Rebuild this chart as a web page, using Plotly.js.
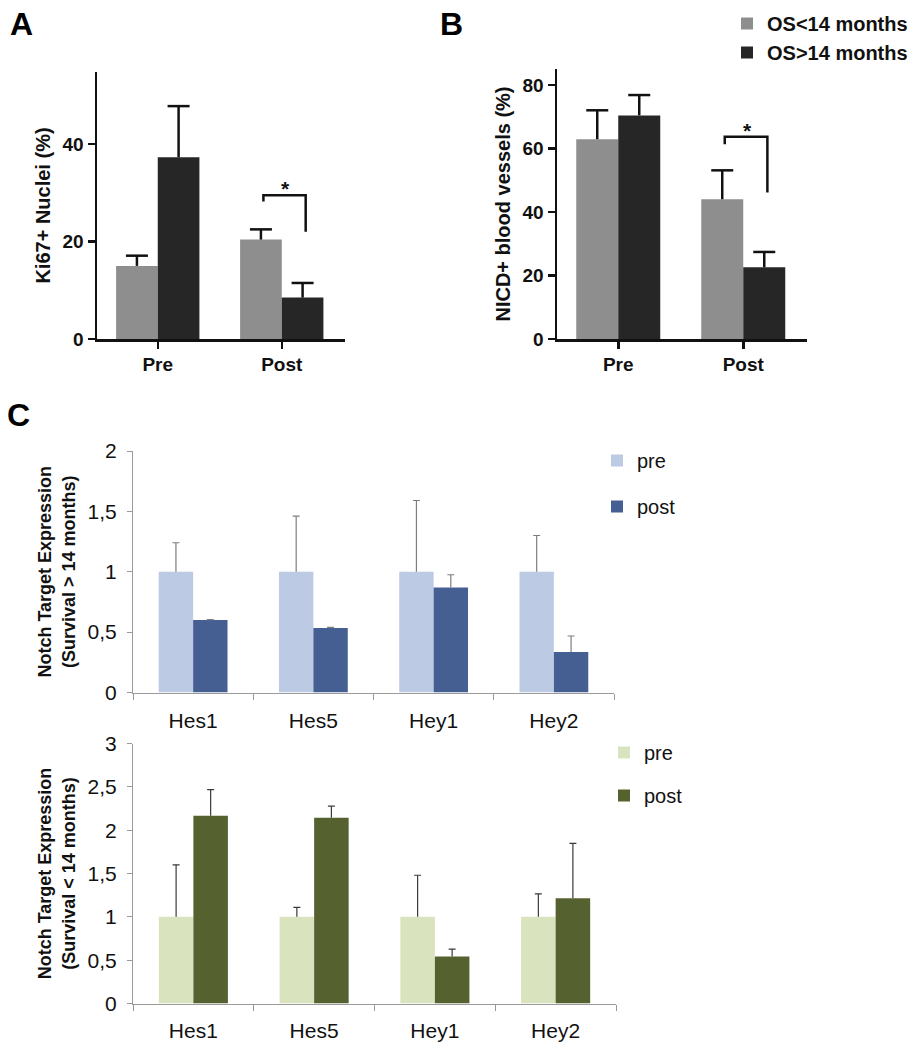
<!DOCTYPE html>
<html>
<head>
<meta charset="utf-8">
<script src="https://cdn.plot.ly/plotly-3.0.1.min.js"></script>
<style>
  body { margin: 0; background: #fff; }
  #fig { width: 916px; height: 1050px; }
</style>
</head>
<body>
<div id="fig"></div>
<script>
// A / B : overall survival groups, pre vs post treatment
var phases = ['Pre', 'Post'];
var osShortName = 'OS&lt;14 months';
var osLongName = 'OS&gt;14 months';
var ki67Short = [15.0, 20.4];
var ki67ShortErr = [2.1, 2.1];
var ki67Long = [37.3, 8.5];
var ki67LongErr = [10.5, 3.0];
var nicdShort = [62.9, 44.0];
var nicdShortErr = [9.1, 9.1];
var nicdLong = [70.4, 22.6];
var nicdLongErr = [6.4, 4.8];

// significance brackets on "Post": [left leg end, bracket level, right leg end]
var sigKi67 = [28.2, 29.5, 22.0];
var sigNicd = [61.3, 63.7, 46.1];

// C : notch targets
var genes = ['Hes1', 'Hes5', 'Hey1', 'Hey2'];
var longPre = [1, 1, 1, 1];
var longPreErr = [0.24, 0.46, 0.59, 0.30];
var longPost = [0.60, 0.535, 0.87, 0.335];
var longPostErr = [0.004, 0.004, 0.105, 0.133];
var shortPre = [1, 1, 1, 1];
var shortPreErr = [0.60, 0.11, 0.48, 0.265];
var shortPost = [2.165, 2.142, 0.543, 1.215];
var shortPostErr = [0.303, 0.135, 0.085, 0.633];

var W = 916, H = 1050;
var FONT = 'Liberation Sans, Arial, Helvetica, sans-serif';
var GRAY = '#8e8e8e', BLACK = '#262626';
var INK = '#111111';

function px(a, b) { return [a / W, b / W]; }
function py(bottom, top) { return [1 - bottom / H, 1 - top / H]; }
function idx(a) { return a.map(function (_, i) { return i; }); }
function add(a, b) { return a.map(function (v, i) { return v + b[i]; }); }

var abBar = 0.336;   // bar width in A/B (category units)
var cBar = 0.286;    // bar width in C

function bar(cats, y, name, color, xa, ya, off, w, leg, group) {
  return {
    type: 'bar', x: cats, y: y, name: name,
    xaxis: xa, yaxis: ya, offset: off, width: w,
    marker: { color: color, line: { width: 0 } },
    showlegend: !!leg, legend: leg || 'legend', legendgroup: group,
    hoverinfo: 'skip'
  };
}

// one-sided error bar: stem down to the bar top, cap only on the upper end
function whisker(cats, y, err, xa, ya, shift, capLen, thick, color) {
  return {
    type: 'scatter', mode: 'markers',
    x: idx(cats).map(function (i) { return i + shift; }),
    y: add(y, err),
    xaxis: xa, yaxis: ya,
    marker: { symbol: 'line-ew', size: capLen / 1.4, line: { width: thick, color: color } },
    error_y: { type: 'data', symmetric: false, array: y.map(function () { return 0; }),
               arrayminus: err, width: 0, thickness: thick, color: color },
    showlegend: false, hoverinfo: 'skip'
  };
}

var data = [
  bar(phases, ki67Short, osShortName, GRAY, 'x', 'y', -abBar, abBar),
  bar(phases, ki67Long, osLongName, BLACK, 'x', 'y', 0, abBar),
  bar(phases, nicdShort, osShortName, GRAY, 'x2', 'y2', -abBar, abBar, 'legend'),
  bar(phases, nicdLong, osLongName, BLACK, 'x2', 'y2', 0, abBar, 'legend'),
  bar(genes, longPre, 'pre', '#bccbe3', 'x3', 'y3', -cBar, cBar, 'legend2', 'a'),
  bar(genes, longPost, 'post', '#465f93', 'x3', 'y3', 0, cBar, 'legend2', 'b'),
  bar(genes, shortPre, 'pre', '#d9e4bf', 'x4', 'y4', -cBar, cBar, 'legend3', 'a'),
  bar(genes, shortPost, 'post', '#556230', 'x4', 'y4', 0, cBar, 'legend3', 'b'),

  whisker(phases, ki67Short, ki67ShortErr, 'x5', 'y', -abBar / 2, 22, 2.5, INK),
  whisker(phases, ki67Long, ki67LongErr, 'x5', 'y', abBar / 2, 22, 2.5, INK),
  whisker(phases, nicdShort, nicdShortErr, 'x6', 'y2', -abBar / 2, 22, 2.5, INK),
  whisker(phases, nicdLong, nicdLongErr, 'x6', 'y2', abBar / 2, 22, 2.5, INK),
  whisker(genes, longPre, longPreErr, 'x7', 'y3', -cBar / 2, 7, 1.2, '#7d7d7d'),
  whisker(genes, longPost, longPostErr, 'x7', 'y3', cBar / 2, 7, 1.2, '#7d7d7d'),
  whisker(genes, shortPre, shortPreErr, 'x8', 'y4', -cBar / 2, 7, 1.2, '#3a3a3a'),
  whisker(genes, shortPost, shortPostErr, 'x8', 'y4', cBar / 2, 7, 1.2, '#3a3a3a')
];

function boldAxisX(dom, anchor) {
  return {
    domain: dom, anchor: anchor, type: 'category', range: [-0.49, 1.51],
    showline: true, linewidth: 2.5, linecolor: INK,
    ticks: 'outside', ticklen: 7, tickwidth: 2.5, tickcolor: INK,
    tickfont: { family: FONT, size: 19, weight: 700, color: INK },
    showgrid: false, zeroline: false, fixedrange: true
  };
}
function boldAxisY(dom, anchor, top, title) {
  return {
    domain: dom, anchor: anchor, range: [0, top], tick0: 0, dtick: 20,
    showline: true, linewidth: 2.5, linecolor: INK,
    ticks: 'outside', ticklen: 7, tickwidth: 2.5, tickcolor: INK,
    tickfont: { family: FONT, size: 19, weight: 700, color: INK },
    title: { text: title, font: { family: FONT, size: 20, weight: 700, color: INK }, standoff: 7 },
    showgrid: false, zeroline: false, fixedrange: true
  };
}
function thinAxisX(dom, anchor, standoff) {
  return {
    domain: dom, anchor: anchor, type: 'category',
    showline: true, linewidth: 1, linecolor: '#9a9a9a',
    ticks: 'outside', tickson: 'boundaries', ticklen: 6, tickcolor: '#9a9a9a',
    tickfont: { family: FONT, size: 21, color: INK }, ticklabelstandoff: standoff,
    showgrid: false, zeroline: false, fixedrange: true
  };
}
function thinAxisY(dom, anchor, top, title) {
  return {
    domain: dom, anchor: anchor, range: [0, top], tick0: 0, dtick: 0.5,
    showline: true, linewidth: 1, linecolor: '#9a9a9a',
    ticks: 'outside', ticklen: 5, tickcolor: '#9a9a9a',
    tickfont: { family: FONT, size: 21, color: INK }, ticklabelstandoff: 6,
    title: { text: title, font: { family: FONT, size: 18, weight: 700, color: INK }, standoff: 7 },
    showgrid: false, zeroline: false, fixedrange: true
  };
}
// hidden numeric axis laid over a category axis, for the whiskers
function overlayX(over, anchor, range) {
  return { overlaying: over, anchor: anchor, range: range, visible: false, fixedrange: true };
}

// bracket between the two "Post" bars
function bracket(xa, ya, s) {
  var l = 1 - abBar / 2 + 0.02, r = 1 + abBar / 2 + 0.025;
  return {
    type: 'path', xref: xa, yref: ya,
    path: 'M' + l + ',' + s[0] + ' L' + l + ',' + s[1] + ' L' + r + ',' + s[1] + ' L' + r + ',' + s[2],
    line: { color: INK, width: 2.5 }
  };
}
function star(xa, ya, s) {
  return {
    xref: xa, yref: ya, x: 1.03, y: s[1], yanchor: 'bottom', yshift: -7,
    text: '*', showarrow: false, font: { family: FONT, size: 21, weight: 700, color: INK }
  };
}
function panelLabel(t, x, y) {
  return {
    xref: 'paper', yref: 'paper', x: x / W, y: 1 - y / H, xanchor: 'left', yanchor: 'top',
    text: t, showarrow: false, font: { family: FONT, size: 32, weight: 700, color: '#000' }
  };
}

var layout = {
  width: W, height: H,
  margin: { l: 0, r: 0, t: 0, b: 0 },
  paper_bgcolor: '#fff', plot_bgcolor: '#fff',
  font: { family: FONT, color: INK },
  separators: ', ',
  barmode: 'group',
  xaxis: boldAxisX(px(97, 345), 'y'),
  yaxis: boldAxisY(py(339, 72), 'x', 54.8, 'Ki67+ Nuclei (%)'),
  xaxis2: boldAxisX(px(557, 807), 'y2'),
  yaxis2: boldAxisY(py(339, 69), 'x2', 85, 'NICD+ blood vessels (%)'),
  xaxis3: thinAxisX(px(133, 614), 'y3', 9),
  yaxis3: thinAxisY(py(692.5, 451), 'x3', 2, 'Notch Target Expression<br>(Survival &gt; 14 months)'),
  xaxis4: thinAxisX(px(133, 616), 'y4', 8),
  yaxis4: thinAxisY(py(1003.5, 743.5), 'x4', 3, 'Notch Target Expression<br>(Survival &lt; 14 months)'),
  xaxis5: overlayX('x', 'y', [-0.49, 1.51]),
  xaxis6: overlayX('x2', 'y2', [-0.49, 1.51]),
  xaxis7: overlayX('x3', 'y3', [-0.5, genes.length - 0.5]),
  xaxis8: overlayX('x4', 'y4', [-0.5, genes.length - 0.5]),
  legend: {
    x: 727 / W, y: 1 - 4 / H, xanchor: 'left', yanchor: 'top',
    font: { family: FONT, size: 20, weight: 700, color: INK },
    bgcolor: 'rgba(0,0,0,0)', tracegroupgap: 0
  },
  legend2: {
    x: 597 / W, y: 1 - 441 / H, xanchor: 'left', yanchor: 'top',
    font: { family: FONT, size: 20, color: INK },
    bgcolor: 'rgba(0,0,0,0)', tracegroupgap: 17
  },
  legend3: {
    x: 604 / W, y: 1 - 733 / H, xanchor: 'left', yanchor: 'top',
    font: { family: FONT, size: 20, color: INK },
    bgcolor: 'rgba(0,0,0,0)', tracegroupgap: 14
  },
  shapes: [bracket('x', 'y', sigKi67), bracket('x2', 'y2', sigNicd)],
  annotations: [
    star('x', 'y', sigKi67), star('x2', 'y2', sigNicd),
    panelLabel('A', 8, 4), panelLabel('B', 438, 4), panelLabel('C', 5, 395)
  ]
};

Plotly.newPlot('fig', data, layout, { displayModeBar: false, staticPlot: true });
</script>
</body>
</html>
